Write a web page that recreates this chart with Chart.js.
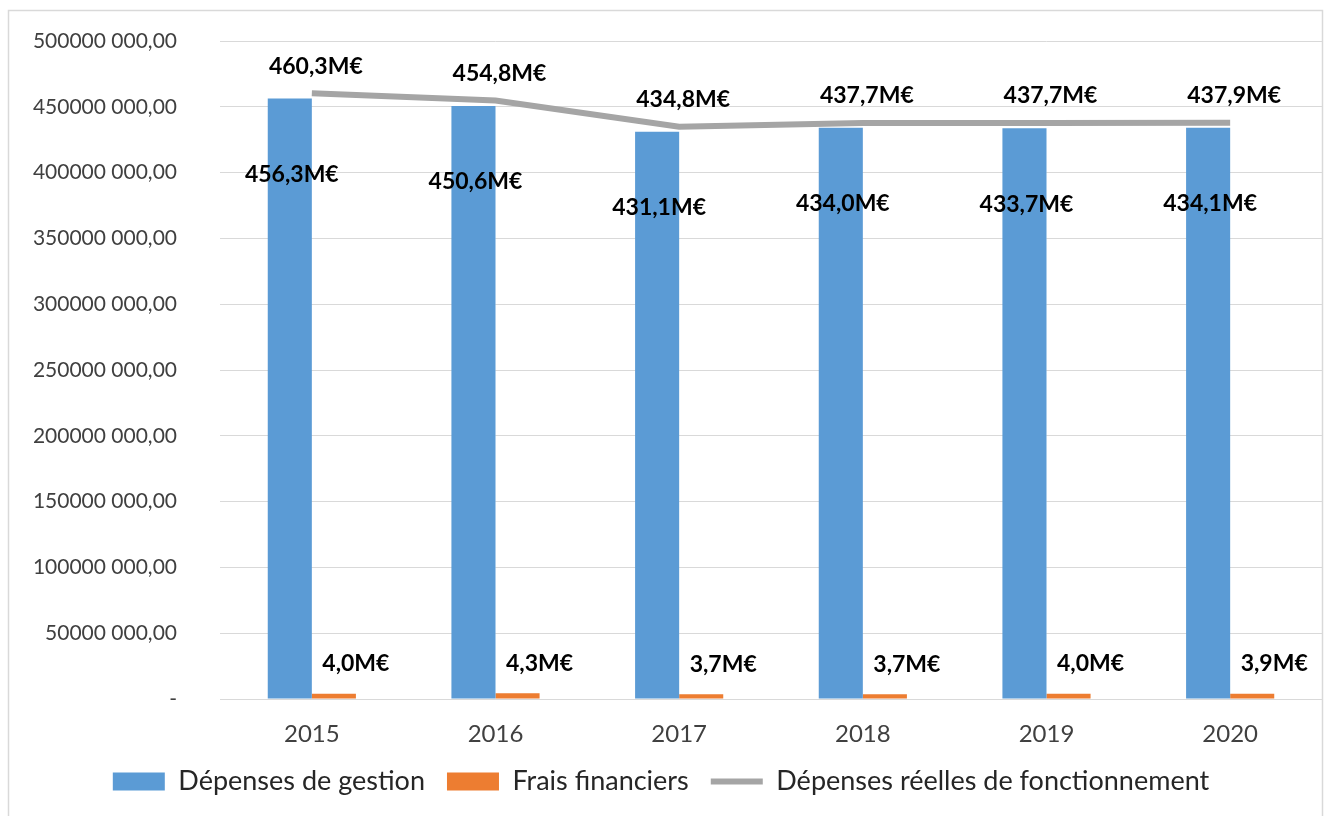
<!DOCTYPE html>
<html>
<head>
<meta charset="utf-8">
<script src="https://cdn.jsdelivr.net/npm/chart.js@4/dist/chart.umd.min.js"></script>
<style>
  html, body { margin: 0; padding: 0; background: #fff; }
  #wrap { width: 1327px; height: 816px; }
</style>
</head>
<body>
<div id="wrap"><canvas id="chart" width="1327" height="816"></canvas></div>
<script>
// DATA
const years = ["2015", "2016", "2017", "2018", "2019", "2020"];
const depensesGestion = [456.3, 450.6, 431.1, 434.0, 433.7, 434.1];   // M€
const fraisFinanciers = [4.0, 4.3, 3.7, 3.7, 4.0, 3.9];               // M€
const depensesReelles = [460.3, 454.8, 434.8, 437.7, 437.7, 437.9];   // M€
const seriesNames = ["Dépenses de gestion", "Frais financiers", "Dépenses réelles de fonctionnement"];

const toEuros = arr => arr.map(v => v * 1000000);
const fmtM = v => (v / 1000000).toFixed(1).replace(".", ",") + "M€";

// y tick format like "450000 000,00"
const fmtTick = (v) => {
  if (v === 0) return "-";
  const thousands = Math.floor(v / 1000);
  const rest = String(v % 1000).padStart(3, "0");
  return thousands + " " + rest + ",00";
};

const FONT = "Lato, 'Liberation Sans', sans-serif";

// frame around the chart
const framePlugin = {
  id: "frame",
  beforeDraw(chart) {
    const ctx = chart.ctx;
    ctx.save();
    ctx.fillStyle = "#fff";
    ctx.fillRect(0, 0, chart.width, chart.height);
    ctx.strokeStyle = "#d9d9d9";
    ctx.lineWidth = 1.5;
    ctx.strokeRect(8.5, 10.5, 1314, 830);
    ctx.restore();
  }
};

// value labels
const labelsPlugin = {
  id: "valueLabels",
  afterDatasetsDraw(chart) {
    const ctx = chart.ctx;
    ctx.save();
    ctx.font = "bold 23px " + FONT;
    ctx.fillStyle = "#000";
    ctx.textAlign = "center";
    ctx.textBaseline = "middle";
    chart.data.datasets.forEach((ds, di) => {
      const meta = chart.getDatasetMeta(di);
      meta.data.forEach((el, i) => {
        const txt = fmtM(ds.data[i]);
        if (di === 0) {
          ctx.fillText(txt, el.x + 2, el.y + 76);
        } else if (di === 1) {
          ctx.fillText(txt, el.x + 22, el.y - 30);
        } else {
          ctx.fillText(txt, el.x + 4, el.y - 27);
        }
      });
    });
    ctx.restore();
  }
};

new Chart("chart", {
  type: "bar",
  data: {
    labels: years,
    datasets: [{
      label: seriesNames[0],
      data: toEuros(depensesGestion),
      backgroundColor: "#5b9bd5",
      order: 1
    }, {
      label: seriesNames[1],
      data: toEuros(fraisFinanciers),
      backgroundColor: "#ed7d31",
      order: 1
    }, {
      type: "line",
      label: seriesNames[2],
      data: toEuros(depensesReelles),
      borderColor: "#a5a5a5",
      backgroundColor: "#a5a5a5",
      borderWidth: 6,
      pointRadius: 0,
      tension: 0,
      order: 0
    }]
  },
  options: {
    responsive: false,
    animation: false,
    layout: { padding: { top: 41, right: 5, bottom: 11, left: 0 } },
    datasets: {
      bar: { categoryPercentage: 0.48, barPercentage: 1 }
    },
    scales: {
      x: {
        afterFit: (scale) => { scale.height = 47; },
        grid: { display: false },
        border: { display: true, color: "#d9d9d9" },
        ticks: { color: "#404040", font: { family: FONT, size: 24 }, padding: 13 }
      },
      y: {
        min: 0,
        max: 500000000,
        afterFit: (scale) => {
          scale.width = 220;
          scale.paddingTop = 0;
          scale.paddingBottom = 0;
        },
        grid: { color: "#d9d9d9", drawTicks: false },
        border: { display: false },
        ticks: {
          stepSize: 50000000,
          color: "#404040",
          padding: 43,
          font: { family: FONT, size: 21 },
          callback: (v) => fmtTick(v)
        }
      }
    },
    plugins: {
      tooltip: { enabled: false },
      legend: {
        position: "bottom",
        labels: {
          color: "#262626",
          font: { family: FONT, size: 27 },
          usePointStyle: true,
          pointStyleWidth: 52,
          boxHeight: 18,
          padding: 22,
          sort: (a, b) => a.datasetIndex - b.datasetIndex,
          generateLabels: (chart) => {
            const items = Chart.defaults.plugins.legend.labels.generateLabels(chart);
            return items.map(it => {
              if (it.datasetIndex === 2) {
                it.pointStyle = "line";
                it.lineWidth = 6;
                it.strokeStyle = "#a5a5a5";
              } else {
                it.pointStyle = "rect";
                it.lineWidth = 0;
              }
              return it;
            });
          }
        }
      }
    }
  },
  plugins: [framePlugin, labelsPlugin]
});
</script>
</body>
</html>
